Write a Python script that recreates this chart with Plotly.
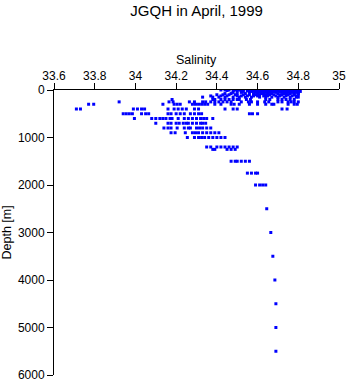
import plotly.graph_objects as go

# Standard observation depths [m] and salinity values observed at each depth
sal_0 = [34.42, 34.44, 34.46, 34.49, 34.51, 34.53, 34.55, 34.56, 34.57, 34.58, 34.59, 34.60, 34.61,
         34.62, 34.63, 34.64, 34.65, 34.66, 34.67, 34.68, 34.69, 34.70, 34.71, 34.72, 34.73, 34.74,
         34.75, 34.76, 34.77, 34.78, 34.79, 34.80]
sal_10 = [34.45, 34.48, 34.52, 34.55, 34.57, 34.58, 34.60, 34.61, 34.63, 34.64, 34.66, 34.67, 34.69,
          34.70, 34.72, 34.74, 34.75, 34.77, 34.79, 34.80]
sal_20 = [34.50, 34.55, 34.58, 34.60, 34.62, 34.64, 34.65, 34.67, 34.68, 34.70, 34.71, 34.73, 34.75,
          34.76, 34.78, 34.80]
sal_30 = [34.53, 34.57, 34.60, 34.61, 34.63, 34.65, 34.66, 34.68, 34.71, 34.72, 34.74, 34.76, 34.78,
          34.79, 34.81]
sal_50 = [34.48, 34.52, 34.56, 34.59, 34.61, 34.62, 34.64, 34.66, 34.67, 34.69, 34.72, 34.73, 34.75,
          34.77, 34.79, 34.80]
sal_75 = [34.44, 34.47, 34.50, 34.54, 34.58, 34.60, 34.62, 34.63, 34.65, 34.67, 34.70, 34.73,
          34.74, 34.76, 34.78, 34.80]
sal_100 = [34.40, 34.43, 34.46, 34.49, 34.53, 34.56, 34.59, 34.61, 34.64, 34.66, 34.68, 34.71,
           34.72, 34.75, 34.78, 34.80]
sal_125 = [34.37, 34.42, 34.45, 34.50, 34.52, 34.55, 34.58, 34.60, 34.63, 34.65, 34.69, 34.71,
           34.74, 34.77, 34.79]
sal_150 = [34.33, 34.38, 34.41, 34.44, 34.48, 34.51, 34.54, 34.57, 34.61, 34.64, 34.67, 34.70,
           34.73, 34.76, 34.79, 34.80]
sal_200 = [34.18, 34.38, 34.39, 34.42, 34.44, 34.46, 34.48, 34.50, 34.51, 34.545, 34.565, 34.64,
           34.66, 34.70, 34.72, 34.74, 34.76, 34.78]
sal_250 = [33.92, 34.165, 34.185, 34.265, 34.29, 34.33, 34.345, 34.37, 34.39, 34.41, 34.43, 34.45,
           34.47, 34.52, 34.555, 34.57, 34.60, 34.635, 34.655, 34.70, 34.72, 34.75, 34.765, 34.78, 34.80]
sal_300 = [33.77, 33.795, 34.135, 34.19, 34.205, 34.22, 34.28, 34.295, 34.31, 34.325, 34.34, 34.355,
           34.39, 34.42, 34.47, 34.485, 34.51, 34.56, 34.60, 34.64, 34.67, 34.68, 34.75, 34.78, 34.795]
sal_400 = [33.71, 33.73, 33.99, 34.01, 34.03, 34.045, 34.16, 34.19, 34.21, 34.23, 34.25, 34.29,
           34.31, 34.44, 34.48, 34.50, 34.72, 34.745]
sal_500 = [33.94, 33.955, 33.97, 33.985, 34.03, 34.05, 34.065, 34.16, 34.175, 34.20, 34.22, 34.24,
           34.27, 34.29, 34.31, 34.325, 34.56, 34.575, 34.60]
sal_600 = [33.995, 34.08, 34.10, 34.12, 34.135, 34.15, 34.17, 34.18, 34.21, 34.24, 34.26, 34.28,
           34.30, 34.32, 34.335, 34.35, 34.38]
sal_700 = [34.10, 34.16, 34.175, 34.20, 34.215, 34.235, 34.25, 34.26, 34.28, 34.30, 34.32, 34.33,
           34.345]
sal_800 = [34.14, 34.16, 34.175, 34.205, 34.24, 34.26, 34.27, 34.30, 34.315, 34.33, 34.35, 34.37]
sal_900 = [34.175, 34.195, 34.245, 34.28, 34.295, 34.31, 34.33, 34.35, 34.37, 34.39, 34.41]
sal_1000 = [34.255, 34.29, 34.31, 34.325, 34.34, 34.36, 34.38, 34.40, 34.42, 34.44]
sal_1200 = [34.35, 34.37, 34.40, 34.42, 34.44, 34.46, 34.48, 34.50]
sal_1250 = [34.38, 34.39, 34.45, 34.47, 34.49]
sal_1500 = [34.47, 34.49, 34.50, 34.52, 34.54, 34.56]
sal_1750 = [34.55, 34.57, 34.59, 34.60]
sal_2000 = [34.59, 34.61, 34.625, 34.64]
sal_2500 = [34.645]
sal_3000 = [34.665]
sal_3500 = [34.675]
sal_4000 = [34.685]
sal_4500 = [34.69]
sal_5000 = [34.69]
sal_5500 = [34.69]

depths = [0, 10, 20, 30, 50, 75, 100, 125, 150, 200, 250, 300, 400, 500, 600, 700, 800, 900,
          1000, 1200, 1250, 1500, 1750, 2000, 2500, 3000, 3500, 4000, 4500, 5000, 5500]
salinity_by_depth = [sal_0, sal_10, sal_20, sal_30, sal_50, sal_75, sal_100, sal_125, sal_150,
                     sal_200, sal_250, sal_300, sal_400, sal_500, sal_600, sal_700, sal_800,
                     sal_900, sal_1000, sal_1200, sal_1250, sal_1500, sal_1750, sal_2000,
                     sal_2500, sal_3000, sal_3500, sal_4000, sal_4500, sal_5000, sal_5500]

x_ticks = [33.6, 33.8, 34.0, 34.2, 34.4, 34.6, 34.8, 35.0]
x_tick_labels = ["33.6", "33.8", "34", "34.2", "34.4", "34.6", "34.8", "35"]
y_ticks = [0, 1000, 2000, 3000, 4000, 5000, 6000]

xs, ys = [], []
for d, vals in zip(depths, salinity_by_depth):
    for v in vals:
        xs.append(v)
        ys.append(d)

FONT = "Liberation Sans, Arial, Helvetica, sans-serif"

fig = go.Figure(go.Scatter(
    x=xs, y=ys, mode="markers",
    marker=dict(symbol="square", size=3, color="#0000ff", line=dict(width=0)),
    hoverinfo="skip", showlegend=False))

fig.update_layout(
    width=348, height=384,
    margin=dict(l=54, r=9, t=90, b=9, autoexpand=False),
    paper_bgcolor="white", plot_bgcolor="white",
    font=dict(family=FONT, size=12, color="black"),
    title=dict(text="JGQH in April, 1999", x=0.565, xanchor="center", y=0.973, yanchor="middle",
               font=dict(family=FONT, size=15, color="black")),
    annotations=[
        dict(text="Salinity", xref="paper", yref="paper", x=0.5, y=1.105,
             xanchor="center", yanchor="middle", showarrow=False,
             font=dict(family=FONT, size=12.5, color="black")),
        dict(text="Depth [m]", xref="paper", yref="paper", x=-0.165, y=0.5, textangle=-90,
             xanchor="center", yanchor="middle", showarrow=False,
             font=dict(family=FONT, size=12.5, color="black")),
    ],
)
fig.update_xaxes(
    side="top", range=[33.6, 35.0], tickvals=x_ticks, ticktext=x_tick_labels,
    automargin=False, ticklabelstandoff=-2,
    showgrid=False, zeroline=False, showline=True, linecolor="black", linewidth=1,
    ticks="outside", ticklen=6, tickcolor="black", tickwidth=1,
    tickfont=dict(family=FONT, size=12),
)
fig.update_yaxes(
    range=[6000, 0], tickvals=y_ticks, automargin=False,
    showgrid=False, zeroline=False, showline=True, linecolor="black", linewidth=1,
    ticks="outside", ticklen=6, tickcolor="black", tickwidth=1,
    tickfont=dict(family=FONT, size=12),
)

fig.write_html("out.html")
